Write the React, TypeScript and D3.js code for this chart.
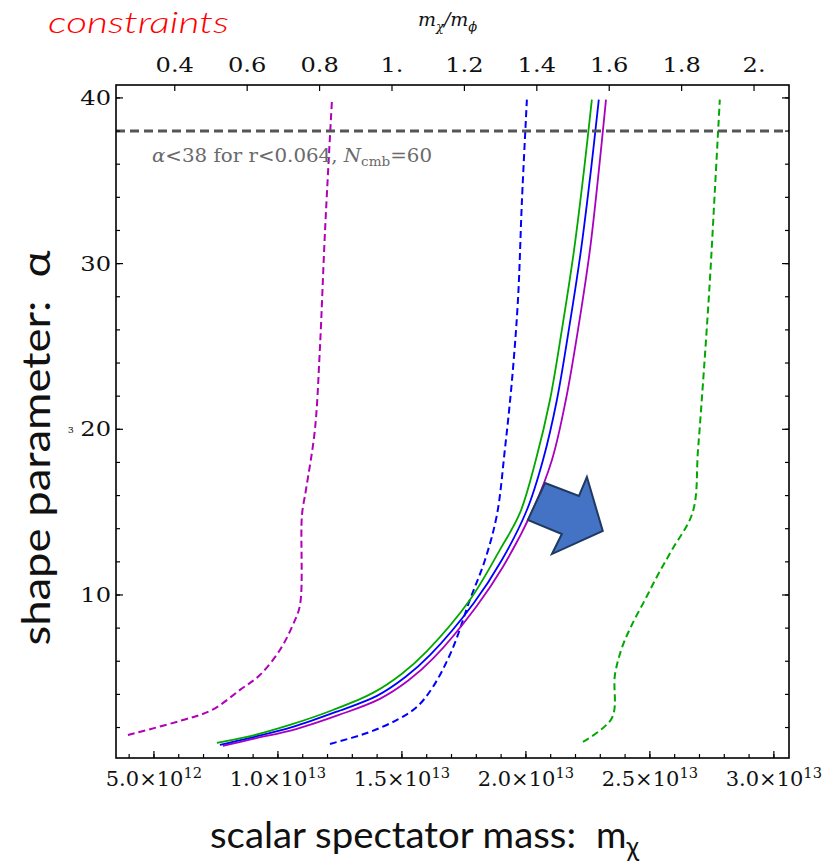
import React from "react";
import * as d3 from "d3";

// Exclusion contours in the (m_chi, alpha) plane; masses in GeV.
const magentaDashedM = [0.395, 0.605, 0.734, 0.847, 0.927, 1.008, 1.06, 1.089, 1.097, 1.113, 1.149, 1.169, 1.19, 1.218].map((v) => v * 1e13);
const magentaDashedA = [1.55, 2.4, 3.06, 4.27, 5.17, 6.68, 8.19, 9.4, 14.83, 16.34, 19.96, 24.8, 32.0, 39.9];

const blueDashedM = [1.21, 1.359, 1.48, 1.56, 1.625, 1.702, 1.774, 1.835, 1.883, 1.915, 1.944, 1.968, 1.984, 2.004].map((v) => v * 1e13);
const blueDashedA = [1.01, 1.67, 2.46, 3.24, 4.45, 6.68, 9.7, 12.11, 14.83, 18.75, 22.98, 27.81, 33.8, 39.9];

const greenSolidM = [0.754, 0.875, 1.048, 1.222, 1.383, 1.5, 1.6, 1.774, 1.895, 1.976, 2.04, 2.097, 2.145, 2.194, 2.234, 2.266].map((v) => v * 1e13);
const greenSolidA = [1.07, 1.43, 2.16, 3.06, 4.09, 5.25, 6.6, 9.7, 12.72, 14.95, 18.15, 21.77, 26.0, 30.8, 35.6, 39.9];

const blueSolidM = [0.766, 0.887, 1.06, 1.234, 1.399, 1.514, 1.615, 1.79, 1.903, 2.004, 2.069, 2.125, 2.173, 2.222, 2.262, 2.294].map((v) => v * 1e13);
const blueSolidA = [0.95, 1.37, 2.04, 2.94, 3.91, 5.05, 6.4, 9.52, 12.11, 15.13, 18.15, 21.77, 26.0, 30.8, 35.6, 39.9];

const purpleSolidM = [0.778, 0.899, 1.073, 1.246, 1.411, 1.527, 1.628, 1.802, 1.907, 2.024, 2.105, 2.161, 2.21, 2.258, 2.294, 2.323].map((v) => v * 1e13);
const purpleSolidA = [0.89, 1.31, 1.91, 2.76, 3.73, 4.85, 6.2, 9.34, 11.69, 15.01, 18.15, 21.77, 26.0, 30.8, 35.6, 39.9];

const greenDashedM = [2.23, 2.347, 2.359, 2.387, 2.427, 2.48, 2.532, 2.589, 2.673, 2.694, 2.718, 2.742, 2.762, 2.782].map((v) => v * 1e13);
const greenDashedA = [1.13, 2.58, 5.17, 6.8, 8.19, 9.7, 11.21, 12.72, 15.01, 18.75, 23.6, 29.0, 34.4, 39.9];

// Block arrow pointing into the allowed region (mass, alpha)
const arrowM = [2.077, 2.214, 2.246, 2.31, 2.105, 2.145, 2.008].map((v) => v * 1e13);
const arrowA = [16.76, 15.98, 17.12, 13.86, 12.47, 13.68, 14.53];

// Axis ticks
const bottomMajor = [5, 10, 15, 20, 25, 30].map((v) => v * 1e12);
const bottomLabels = ["5.0", "1.0", "1.5", "2.0", "2.5", "3.0"];
const bottomExps = ["12", "13", "13", "13", "13", "13"];
const bottomMinor = d3.range(4, 31).map((v) => v * 1e12);
const topRatios = [0.4, 0.6, 0.8, 1.0, 1.2, 1.4, 1.6, 1.8, 2.0];
const topLabels = ["0.4", "0.6", "0.8", "1.", "1.2", "1.4", "1.6", "1.8", "2."];
const leftMajor = [10, 20, 30, 40];
const leftMinor = d3.range(2, 41, 2);

const mPhi = 1.46e13;
const alphaBound = 38;

const W = 825;
const H = 864;
const L = 116, R = 789, T = 85, B = 758;

const x = d3.scaleLinear().domain([3.47e12, 3.061e13]).range([L, R]);
const y = d3.scaleLinear().domain([0.161, 40.78]).range([B, T]);

const serif = "'DejaVu Serif', serif";
const sans = "Lato, 'Open Sans', 'Noto Sans', sans-serif";
const stretch = 1.15;

type Curve = { m: number[]; a: number[]; color: string; dashed: boolean };
const curves: Curve[] = [
  { m: magentaDashedM, a: magentaDashedA, color: "#b000b8", dashed: true },
  { m: blueDashedM, a: blueDashedA, color: "#0000ff", dashed: true },
  { m: greenDashedM, a: greenDashedA, color: "#00a800", dashed: true },
  { m: purpleSolidM, a: purpleSolidA, color: "#a800c0", dashed: false },
  { m: blueSolidM, a: blueSolidA, color: "#0000ff", dashed: false },
  { m: greenSolidM, a: greenSolidA, color: "#00a800", dashed: false },
];

const lineGen = d3
  .line<[number, number]>()
  .x((d) => x(d[0]))
  .y((d) => y(d[1]))
  .curve(d3.curveCatmullRom.alpha(0.5));

export default function App() {
  const arrowPts = arrowM.map((m, i) => `${x(m)},${y(arrowA[i])}`).join(" ");
  return (
    <svg
      width={W}
      height={H}
      viewBox={`0 0 ${W} ${H}`}
      style={{ position: "absolute", left: 0, top: 0, background: "#fff" }}
    >
      <rect x={0} y={0} width={W} height={H} fill="#fff" />

      {/* Title */}
      <text x={48} y={33} fontFamily={sans} fontStyle="italic" fontWeight={300} fontSize={30} fill="#ff0000" textLength={181} lengthAdjust="spacingAndGlyphs">
        constraints
      </text>

      {/* Top axis title */}
      <text x={418} y={26} fontFamily={serif} fontStyle="italic" fontSize={19} fill="#111">
        m<tspan fontSize={13} dy={5}>χ</tspan>
        <tspan dy={-5}>/m</tspan>
        <tspan fontSize={13} dy={5}>ϕ</tspan>
      </text>

      {/* Curves */}
      {curves.map((c, i) => (
        <path
          key={i}
          d={lineGen(c.m.map((m, j) => [m, c.a[j]] as [number, number])) || ""}
          fill="none"
          stroke={c.color}
          strokeWidth={c.dashed ? 2 : 1.8}
          strokeDasharray={c.dashed ? "7 4" : undefined}
        />
      ))}

      {/* alpha bound */}
      <line x1={L} x2={R} y1={y(alphaBound)} y2={y(alphaBound)} stroke="#555" strokeWidth={3} strokeDasharray="9 5" />
      <text x={152} y={162} fontFamily={serif} fontSize={19} fill="#6a6a6a" textLength={280} lengthAdjust="spacingAndGlyphs">
        <tspan fontStyle="italic">α</tspan>&lt;38 for r&lt;0.064, <tspan fontStyle="italic">N</tspan>
        <tspan fontSize={13} dy={4}>cmb</tspan>
        <tspan dy={-4}>=60</tspan>
      </text>

      {/* Arrow */}
      <polygon points={arrowPts} fill="#4472c4" stroke="#1f3a60" strokeWidth={2} strokeLinejoin="miter" />

      {/* Frame */}
      <rect x={L} y={T} width={R - L} height={B - T} fill="none" stroke="#000" strokeWidth={1.6} />

      {/* Bottom ticks */}
      {bottomMinor.map((v, i) => (
        <line key={"bm" + i} x1={x(v)} x2={x(v)} y1={B} y2={B - 4} stroke="#000" strokeWidth={1.2} />
      ))}
      {bottomMajor.map((v, i) => (
        <g key={"bM" + i}>
          <line x1={x(v)} x2={x(v)} y1={B} y2={B - 7} stroke="#000" strokeWidth={1.2} />
          <text
            transform={`translate(${x(v)},786) scale(1.05,1)`}
            fontFamily={serif}
            fontSize={20}
            textAnchor="middle"
            fill="#111"
          >
            {bottomLabels[i]}×10<tspan fontSize={14} dy={-8}>{bottomExps[i]}</tspan>
          </text>
        </g>
      ))}

      {/* Top ticks (mass ratio) */}
      {topRatios.map((r, i) => (
        <g key={"t" + i}>
          <line x1={x(r * mPhi)} x2={x(r * mPhi)} y1={T} y2={T + 6} stroke="#000" strokeWidth={1.2} />
          <text
            transform={`translate(${x(r * mPhi)},72) scale(${stretch},1)`}
            fontFamily={serif}
            fontSize={21}
            textAnchor="middle"
            fill="#111"
          >
            {topLabels[i]}
          </text>
        </g>
      ))}

      {/* Left & right ticks */}
      {leftMinor.map((v, i) => (
        <g key={"lm" + i}>
          <line x1={L} x2={L + 4} y1={y(v)} y2={y(v)} stroke="#000" strokeWidth={1.2} />
          <line x1={R} x2={R - 4} y1={y(v)} y2={y(v)} stroke="#000" strokeWidth={1.2} />
        </g>
      ))}
      {leftMajor.map((v, i) => (
        <g key={"lM" + i}>
          <line x1={L} x2={L + 7} y1={y(v)} y2={y(v)} stroke="#000" strokeWidth={1.2} />
          <line x1={R} x2={R - 7} y1={y(v)} y2={y(v)} stroke="#000" strokeWidth={1.2} />
          <text
            transform={`translate(111,${y(v) + 7}) scale(${stretch},1)`}
            fontFamily={serif}
            fontSize={21}
            textAnchor="end"
            fill="#111"
          >
            {v}
          </text>
        </g>
      ))}

      {/* small stray glyph */}
      <text x={68} y={433} fontFamily={serif} fontSize={11} fill="#222">ɜ</text>

      {/* Axis titles */}
      <text x={210} y={848} fontFamily={sans} fontSize={37} fill="#111">
        <tspan textLength={366} lengthAdjust="spacingAndGlyphs">scalar spectator mass:</tspan>
      </text>
      <text x={596} y={848} fontFamily={sans} fontSize={37} fill="#111">
        m<tspan fontSize={26} dy={8}>χ</tspan>
      </text>
      <text
        transform={`translate(50, 448) rotate(-90)`}
        fontFamily={sans}
        fontSize={38}
        textAnchor="middle"
        fill="#111"
        textLength={395}
        lengthAdjust="spacingAndGlyphs"
        xmlSpace="preserve"
      >
        shape parameter:  α
      </text>
    </svg>
  );
}
